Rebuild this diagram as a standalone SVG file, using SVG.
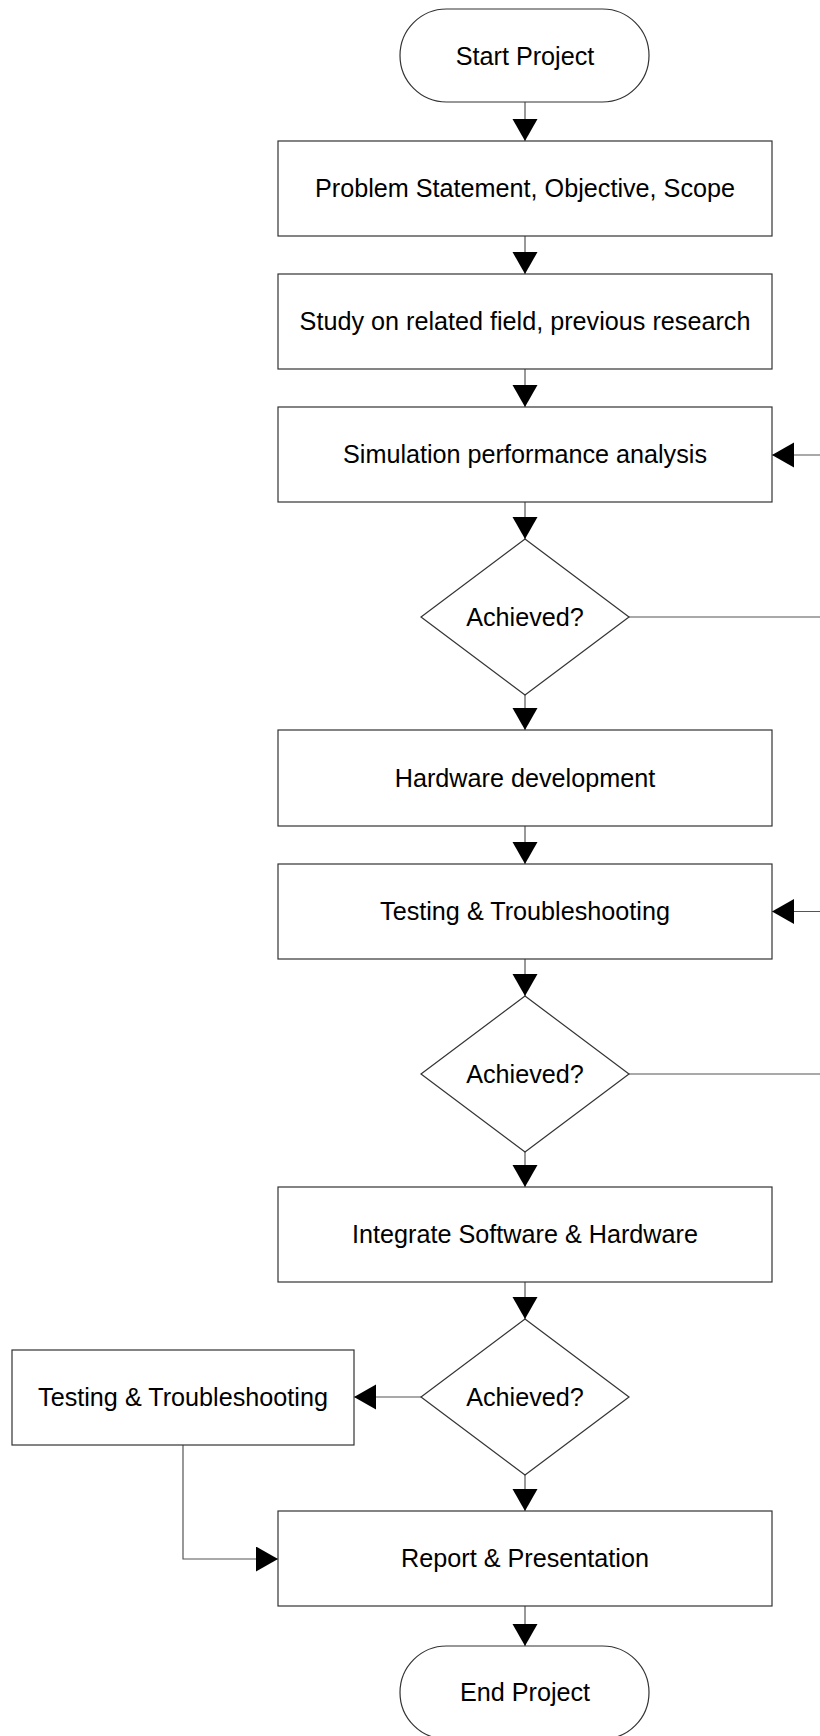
<svg xmlns="http://www.w3.org/2000/svg" width="820" height="1736" viewBox="0 0 820 1736">
<style>
.shape{fill:#ffffff;stroke:#333333;stroke-width:1.2}
.conn{fill:none;stroke:#555555;stroke-width:1.2}
text{font-family:"Liberation Sans",Arial,sans-serif;font-size:25.2px;fill:#000000;text-anchor:middle}
</style>
<defs>
<marker id="arr" markerUnits="userSpaceOnUse" markerWidth="23" markerHeight="26" refX="22" refY="12.5" orient="auto">
<path d="M0,0 L22,12.5 L0,25 Z" fill="#000000"/>
</marker>
</defs>
<rect width="820" height="1736" fill="#ffffff"/>
<g id="connectors">
<line class="conn" x1="525" y1="102" x2="525" y2="141" marker-end="url(#arr)"/>
<line class="conn" x1="525" y1="236" x2="525" y2="274" marker-end="url(#arr)"/>
<line class="conn" x1="525" y1="369" x2="525" y2="407" marker-end="url(#arr)"/>
<line class="conn" x1="525" y1="502" x2="525" y2="539" marker-end="url(#arr)"/>
<line class="conn" x1="525" y1="695" x2="525" y2="730" marker-end="url(#arr)"/>
<line class="conn" x1="525" y1="826" x2="525" y2="864" marker-end="url(#arr)"/>
<line class="conn" x1="525" y1="959" x2="525" y2="996" marker-end="url(#arr)"/>
<line class="conn" x1="525" y1="1152" x2="525" y2="1187" marker-end="url(#arr)"/>
<line class="conn" x1="525" y1="1282" x2="525" y2="1319" marker-end="url(#arr)"/>
<line class="conn" x1="525" y1="1475" x2="525" y2="1511" marker-end="url(#arr)"/>
<line class="conn" x1="525" y1="1606" x2="525" y2="1646" marker-end="url(#arr)"/>
<line class="conn" x1="629" y1="617" x2="822" y2="617"/>
<line class="conn" x1="822" y1="455" x2="772" y2="455" marker-end="url(#arr)"/>
<line class="conn" x1="629" y1="1074" x2="822" y2="1074"/>
<line class="conn" x1="822" y1="911.5" x2="772" y2="911.5" marker-end="url(#arr)"/>
<line class="conn" x1="421" y1="1397" x2="354" y2="1397" marker-end="url(#arr)"/>
<polyline class="conn" points="183,1445 183,1559 278,1559" marker-end="url(#arr)"/>
</g>
<g id="start">
<rect class="shape" x="400" y="9" width="249" height="93" rx="46.5" ry="46.5"/>
<text x="525" y="64.5">Start Project</text>
</g>
<g id="problem">
<rect class="shape" x="278" y="141" width="494" height="95"/>
<text x="525" y="197">Problem Statement, Objective, Scope</text>
</g>
<g id="study">
<rect class="shape" x="278" y="274" width="494" height="95"/>
<text x="525" y="330">Study on related field, previous research</text>
</g>
<g id="simulation">
<rect class="shape" x="278" y="407" width="494" height="95"/>
<text x="525" y="463">Simulation performance analysis</text>
</g>
<g id="decision1">
<polygon class="shape" points="525,539 629,617 525,695 421,617"/>
<text x="525" y="625.5">Achieved?</text>
</g>
<g id="hardware">
<rect class="shape" x="278" y="730" width="494" height="96"/>
<text x="525" y="786.5">Hardware development</text>
</g>
<g id="testing1">
<rect class="shape" x="278" y="864" width="494" height="95"/>
<text x="525" y="920">Testing &amp; Troubleshooting</text>
</g>
<g id="decision2">
<polygon class="shape" points="525,996 629,1074 525,1152 421,1074"/>
<text x="525" y="1082.5">Achieved?</text>
</g>
<g id="integrate">
<rect class="shape" x="278" y="1187" width="494" height="95"/>
<text x="525" y="1243">Integrate Software &amp; Hardware</text>
</g>
<g id="decision3">
<polygon class="shape" points="525,1319 629,1397 525,1475 421,1397"/>
<text x="525" y="1405.5">Achieved?</text>
</g>
<g id="testing2">
<rect class="shape" x="12" y="1350" width="342" height="95"/>
<text x="183" y="1406">Testing &amp; Troubleshooting</text>
</g>
<g id="report">
<rect class="shape" x="278" y="1511" width="494" height="95"/>
<text x="525" y="1567">Report &amp; Presentation</text>
</g>
<g id="end">
<rect class="shape" x="400" y="1646" width="249" height="93" rx="46.5" ry="46.5"/>
<text x="525" y="1701">End Project</text>
</g>
</svg>
